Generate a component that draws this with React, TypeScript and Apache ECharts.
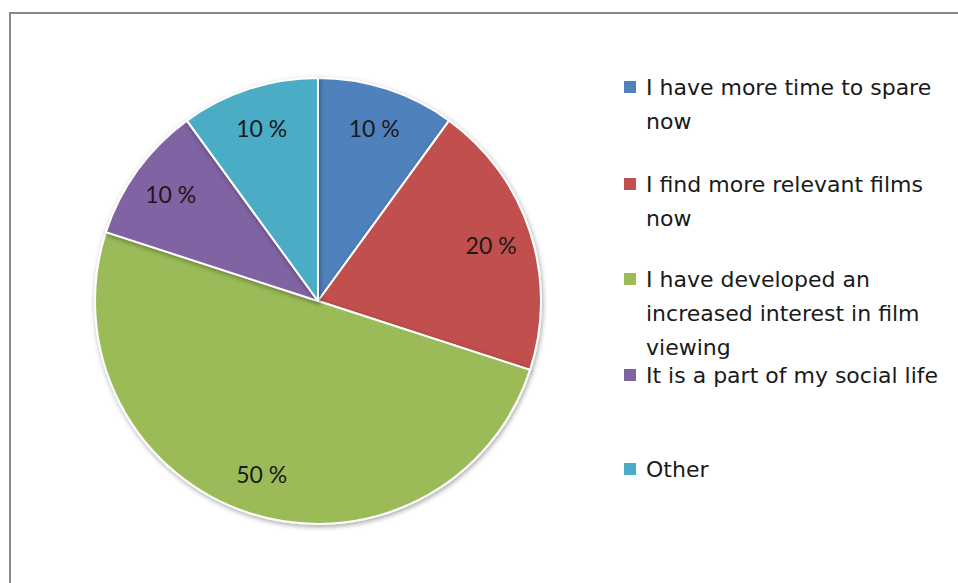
import React, { useEffect, useRef } from "react";
import * as echarts from "echarts";

const categories = [
  "I have more time to spare now",
  "I find more relevant films now",
  "I have developed an increased interest in film viewing",
  "It is a part of my social life",
  "Other",
];
const legendLines = [
  ["I have more time to spare", "now"],
  ["I find more relevant films", "now"],
  ["I have developed an", "increased interest in film", "viewing"],
  ["It is a part of my social life"],
  ["Other"],
];
const values = [10, 20, 50, 10, 10];
const colors = ["#4F81BD", "#C0504D", "#9BBB59", "#8064A2", "#4BACC6"];
const legendTops = [87, 184, 279, 375, 469];

export default function App() {
  const ref = useRef<HTMLDivElement>(null);
  useEffect(() => {
    document.body.style.margin = "0";
    const chart = echarts.init(ref.current!, null, { renderer: "svg" });
    const font = "Lato, 'Open Sans', sans-serif";
    const legendFont = "'DejaVu Sans', 'Open Sans', sans-serif";
    const data = categories.map((name, i) => ({ name, value: values[i] }));

    const graphic: any[] = [
      {
        type: "rect",
        shape: { x: 10, y: 13, width: 1000, height: 700 },
        style: { fill: "none", stroke: "#878787", lineWidth: 2 },
        silent: true,
      },
    ];
    legendLines.forEach((lines, i) => {
      graphic.push({
        type: "rect",
        shape: { x: 624, y: legendTops[i] - 6, width: 12, height: 12 },
        style: { fill: colors[i] },
      });
      graphic.push({
        type: "text",
        x: 646,
        y: legendTops[i] - 17,
        style: {
          text: lines.join("\n"),
          font: `22px ${legendFont}`,
          fill: "#1a1a1a",
          lineHeight: 34,
          verticalAlign: "top",
        },
      });
    });

    chart.setOption({
      animation: false,
      backgroundColor: "#fff",
      graphic,
      series: [
        {
          type: "pie",
          center: [318, 301],
          radius: 223,
          startAngle: 90,
          clockwise: true,
          data,
          label: { show: false },
          labelLine: { show: false },
          itemStyle: {
            color: (p: any) => colors[p.dataIndex],
            borderColor: "#fff",
            borderWidth: 2,
            shadowBlur: 5,
            shadowColor: "rgba(0,0,0,0.35)",
            shadowOffsetY: 2,
            shadowOffsetX: 1,
          },
          emphasis: { disabled: true },
          silent: true,
        },
        {
          type: "pie",
          center: [318, 301],
          radius: [136, 222],
          startAngle: 90,
          clockwise: true,
          data,
          silent: true,
          itemStyle: { color: "rgba(0,0,0,0)", borderWidth: 0 },
          emphasis: { disabled: true },
          labelLine: { show: false },
          label: {
            show: true,
            position: "inside",
            formatter: "{c} %",
            fontFamily: font,
            fontSize: 23,
            color: "#1a1a1a",
          },
        },
      ],
    });
    return () => chart.dispose();
  }, []);
  return <div ref={ref} style={{ width: 958, height: 583 }} />;
}
